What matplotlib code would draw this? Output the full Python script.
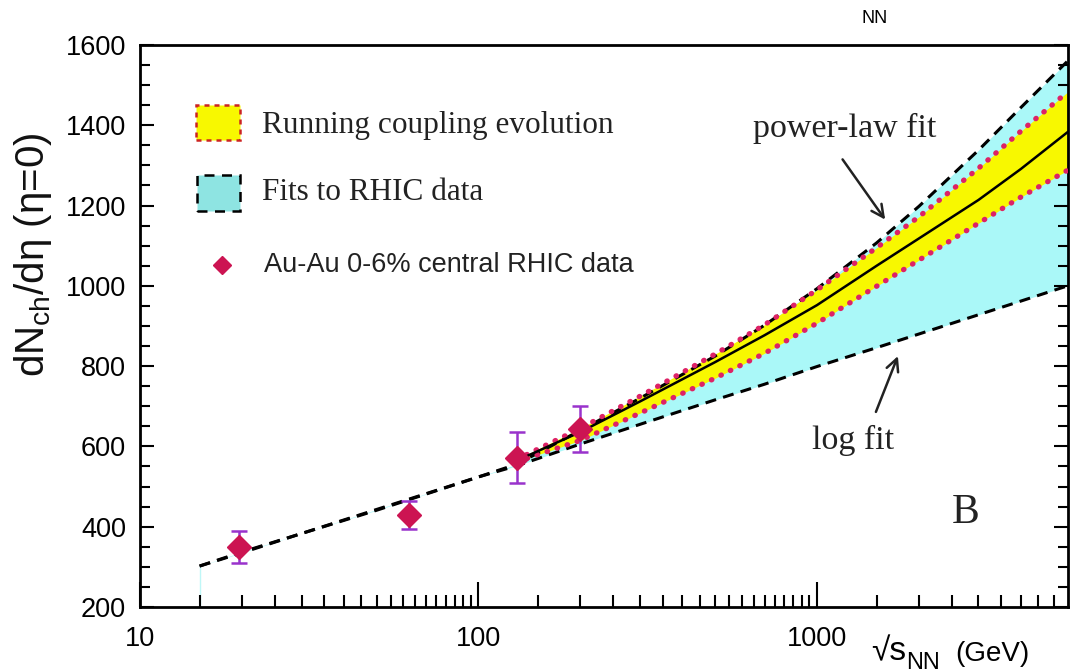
import numpy as np
import matplotlib.pyplot as plt
from matplotlib.patches import Rectangle
from matplotlib.ticker import FixedLocator, NullFormatter

plt.rcParams['font.family'] = ['Liberation Sans', 'DejaVu Sans']
plt.rcParams['mathtext.default'] = 'regular'

# sqrt(s_NN) in GeV where the curves are sampled
x_fit = [15, 20, 30, 50, 100, 130, 200, 300, 500, 700, 1000, 1500, 2000, 3000, 4000, 5500]
# power-law fit (upper dashed) and log fit (lower dashed)
power_law = [302, 337, 383, 443, 524, 556, 640, 720, 825, 902, 993, 1107, 1198, 1338, 1444, 1560]
log_fit = [302, 335, 383, 441, 524, 552, 606, 655, 716, 755, 799, 846, 880, 928, 962, 1000]

# running coupling evolution band
x_rc = [130, 200, 300, 500, 700, 1000, 1500, 2000, 3000, 4000, 5500]
rc_upper = [568, 645, 725, 830, 903, 990, 1095, 1172, 1293, 1385, 1483]
rc_lower = [562, 615, 683, 770, 832, 907, 999, 1064, 1156, 1221, 1288]
rc_central = [565, 636, 712, 810, 877, 952, 1050, 1118, 1214, 1291, 1383]

# Au-Au 0-6% central data
x_data = [19.6, 62.4, 130, 200]
y_data = [350, 430, 572, 643]
y_err = [40, 35, 63, 58]

W, H = 1071, 672
fig = plt.figure(figsize=(W / 100, H / 100), dpi=100)
ax = fig.add_axes([140 / W, 1 - 607 / H, 927.6 / W, 562 / H])

ax.fill_between(x_fit, log_fit, power_law, color='#aaf8f8', lw=0, zorder=1)
ax.fill_between(x_rc, rc_lower, rc_upper, color='#f8f800', lw=0, zorder=2)
ax.vlines(15, 200, 302, color='#bff7f7', lw=1, zorder=1)

dash_kw = dict(color='black', lw=2.2, linestyle=(0, (3.6, 2.4)), zorder=4)
ax.plot(x_fit, power_law, **dash_kw)
ax.plot(x_fit, log_fit, **dash_kw)

dot_kw = dict(color='#dd2266', lw=3.8, linestyle=(0, (0.1, 1.9)),
              dash_capstyle='round', zorder=5)
ax.plot(x_rc, rc_upper, **dot_kw)
ax.plot(x_rc, rc_lower, **dot_kw)
ax.plot(x_rc, rc_central, color='black', lw=1.8, zorder=5)

ax.errorbar(x_data, y_data, yerr=y_err, fmt='none', ecolor='#9933cc',
            elinewidth=1.8, capsize=6, capthick=1.8, zorder=6)
ax.plot(x_data, y_data, 'D', color='#cc1452', ms=12.5, mec='#cc1452', zorder=7)

ax.set_xscale('log')
ax.set_xlim(10, 5500)
ax.set_ylim(200, 1600)

# axis ticks
ax.xaxis.set_major_locator(FixedLocator([10, 100, 1000]))
ax.set_xticklabels(['10', '100', '1000'])
minor_x = list(range(15, 100, 5)) + list(range(150, 1000, 50)) + list(range(1500, 5500, 500))
ax.xaxis.set_minor_locator(FixedLocator(minor_x))
ax.xaxis.set_minor_formatter(NullFormatter())
ax.yaxis.set_major_locator(FixedLocator(range(200, 1601, 200)))
ax.yaxis.set_minor_locator(FixedLocator(range(250, 1600, 50)))

ax.tick_params(axis='x', which='major', direction='in', length=18, width=1.5,
               labelsize=19.5, pad=14, top=False)
ax.tick_params(axis='x', which='minor', direction='in', length=9, width=1.5, top=False)
ax.tick_params(axis='y', which='major', direction='in', length=10, width=1.5,
               labelsize=19.5, pad=10, right=True)
ax.tick_params(axis='y', which='minor', direction='in', length=7, width=1.5, right=True)
for s in ax.spines.values():
    s.set_linewidth(2)

fig.text(33 / W, 1 - 255 / H, r'dN$_{ch}$/dη (η=0)', fontsize=29,
         rotation=90, ha='center', va='center', color='#111111')
fig.text(871 / W, 1 - 660 / H, '√s', fontsize=24, ha='left', va='baseline')
fig.text(906 / W, 1 - 669 / H, 'NN', fontsize=17, ha='left', va='baseline')
fig.text(955 / W, 1 - 661 / H, '(GeV)', fontsize=20, ha='left', va='baseline')
fig.text(875 / W, 1 - 23 / H, 'NN', fontsize=13, ha='center', va='baseline')

# legend entries
def axf(px, py):
    return (px - 140) / 927.6, (607 - py) / 562

x0, y0 = axf(196, 140)
ax.add_patch(Rectangle((x0, y0), 44 / 927.6, 35 / 562, transform=ax.transAxes,
                       facecolor='#f8f800', edgecolor='#cc2222', lw=1.8,
                       linestyle=(0, (2, 2)), zorder=8))
x0, y0 = axf(197, 211)
ax.add_patch(Rectangle((x0, y0), 43 / 927.6, 36 / 562, transform=ax.transAxes,
                       facecolor='#8ee4e2', edgecolor='black', lw=1.8,
                       linestyle=(0, (4, 3)), zorder=8))
ax.plot(*axf(222, 265), 'D', color='#cc1452', ms=9, transform=ax.transAxes,
        clip_on=False, zorder=8)

serif = ['Liberation Serif', 'DejaVu Serif']
ax.text(*axf(262, 125), 'Running coupling evolution', transform=ax.transAxes,
        family=serif, fontsize=22.5, va='center', color='#222222')
ax.text(*axf(262, 193), 'Fits to RHIC data', transform=ax.transAxes,
        family=serif, fontsize=22.5, va='center', color='#222222')
ax.text(*axf(264, 265), 'Au-Au 0-6% central RHIC data', transform=ax.transAxes,
        fontsize=19.5, va='center', color='#222222')

# annotations
arrow_kw = dict(arrowstyle='->', lw=1.8, color='#222222', mutation_scale=22,
                shrinkA=0, shrinkB=0)
ax.annotate('', xy=(1590, 1165), xytext=(1190, 1315), arrowprops=arrow_kw)
ax.text(*axf(845, 128), 'power-law fit', transform=ax.transAxes, family=serif,
        fontsize=24.5, ha='center', va='center', color='#222222')
ax.annotate('', xy=(1734, 825), xytext=(1493, 686), arrowprops=arrow_kw)
ax.text(*axf(853, 440), 'log fit', transform=ax.transAxes, family=serif,
        fontsize=24.5, ha='center', va='center', color='#222222')
ax.text(*axf(966, 513), 'B', transform=ax.transAxes, family=serif,
        fontsize=30, ha='center', va='center', color='#222222')

fig.savefig('out.png', dpi=100)
